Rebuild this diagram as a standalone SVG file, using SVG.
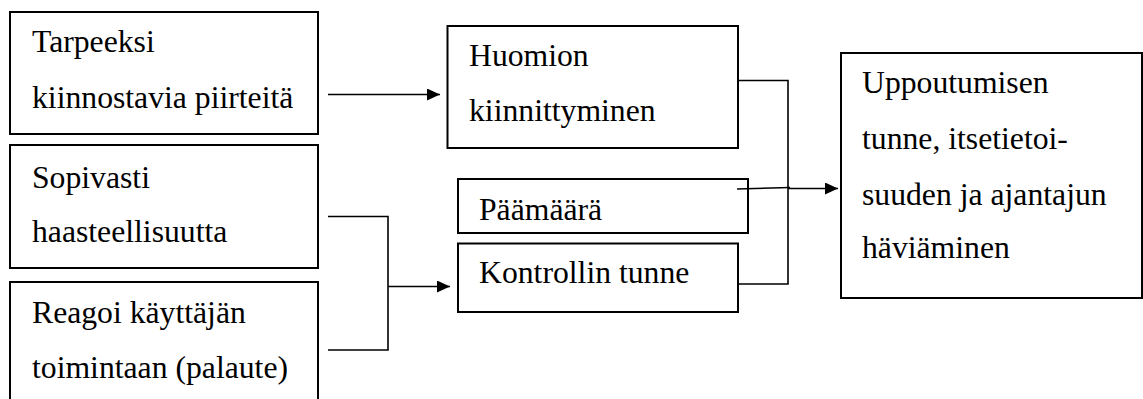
<svg xmlns="http://www.w3.org/2000/svg" width="1143" height="399" viewBox="0 0 1143 399">
<style>
.box{fill:#fff;stroke:#000;stroke-width:2}
.t{font-family:"Liberation Serif","Times New Roman",serif;font-size:31.7px;fill:#000}
.c{fill:none;stroke:#000;stroke-width:1.6}
</style>
<defs>
<marker id="arr" markerUnits="userSpaceOnUse" markerWidth="14" markerHeight="13" refX="13" refY="6" orient="auto">
<path d="M0,0 L13,6 L0,12 z" fill="#000"/>
</marker>
</defs>
<rect width="1143" height="399" fill="#fff"/>
<g id="n1">
<rect class="box" x="10" y="12" width="308" height="122"/>
<text class="t" x="32" y="52">Tarpeeksi</text>
<text class="t" x="32" y="108">kiinnostavia piirteitä</text>
</g>
<g id="n2">
<rect class="box" x="10" y="145" width="308" height="123"/>
<text class="t" x="32" y="188">Sopivasti</text>
<text class="t" x="32" y="242">haasteellisuutta</text>
</g>
<g id="n3">
<rect class="box" x="10" y="282" width="308" height="130"/>
<text class="t" x="32" y="323">Reagoi käyttäjän</text>
<text class="t" x="32" y="378">toimintaan (palaute)</text>
</g>
<g id="n4">
<rect class="box" x="447.5" y="26" width="290.5" height="122"/>
<text class="t" x="469" y="66">Huomion</text>
<text class="t" x="469" y="121">kiinnittyminen</text>
</g>
<g id="n5">
<rect class="box" x="458" y="179" width="290" height="54"/>
<text class="t" x="479" y="220">Päämäärä</text>
</g>
<g id="n6">
<rect class="box" x="458" y="243.5" width="280" height="68.5"/>
<text class="t" x="479" y="283">Kontrollin tunne</text>
</g>
<g id="n7">
<rect class="box" x="841" y="53" width="301" height="245"/>
<text class="t" x="862" y="93">Uppoutumisen</text>
<text class="t" x="862" y="149">tunne, itsetietoi-</text>
<text class="t" x="862" y="205">suuden ja ajantajun</text>
<text class="t" x="862" y="258">häviäminen</text>
</g>
<g id="connectors">
<line class="c" x1="328" y1="94.5" x2="440" y2="94.5" marker-end="url(#arr)"/>
<polyline class="c" points="328,216.5 388,216.5 388,350 328,350"/>
<line class="c" x1="388" y1="286.5" x2="450" y2="286.5" marker-end="url(#arr)"/>
<polyline class="c" points="738,80.5 788,80.5 788,284 738,284"/>
<polyline class="c" points="737,189 790,187.5"/>
<line class="c" x1="788" y1="188.5" x2="838" y2="188.5" marker-end="url(#arr)"/>
</g>
</svg>
